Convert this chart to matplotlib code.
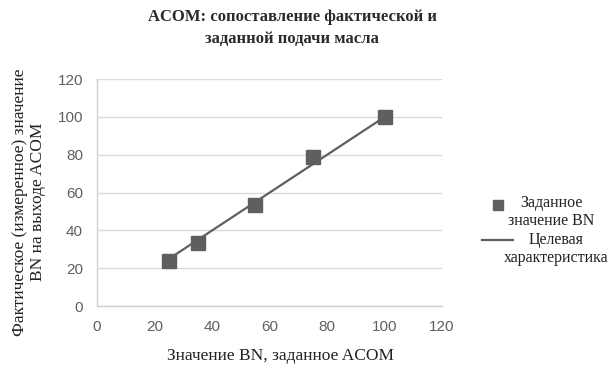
import matplotlib
matplotlib.use("Agg")
import matplotlib.pyplot as plt
from matplotlib.lines import Line2D

# Data
set_bn = [25, 35, 55, 75, 100]
measured_bn = [24, 33.3, 53.5, 78.6, 100]
target_x = [25, 100]
target_y = [25, 100]
xticks = [0, 20, 40, 60, 80, 100, 120]
yticks = [0, 20, 40, 60, 80, 100, 120]

title = "ACOM: сопоставление фактической и\nзаданной подачи масла"
xlabel = "Значение BN, заданное ACOM"
ylabel = "Фактическое (измеренное) значение\nBN на выходе ACOM"
label_pts = "Заданное\nзначение BN"
label_line = "Целевая\nхарактеристика"

serif = ["Liberation Serif", "DejaVu Serif"]
sans = ["Liberation Sans", "DejaVu Sans"]

W, H = 614, 368
fig = plt.figure(figsize=(W / 100, H / 100), dpi=100)
ax = fig.add_axes([0.158, 0.168, 0.562, 0.617])

gray = "#5f5f5f"
ax.plot(target_x, target_y, color=gray, lw=1.6, label=label_line, zorder=3)
ax.plot(set_bn, measured_bn, ls="none", marker="s", ms=9.5, color=gray,
        label=label_pts, zorder=4)

ax.set_xlim(0, 120)
ax.set_ylim(0, 120)
ax.set_xticks(xticks)
ax.set_yticks(yticks)
ax.grid(axis="y", color="#d9d9d9", lw=1.0)
ax.set_axisbelow(True)
for s in ["top", "right"]:
    ax.spines[s].set_visible(False)
for s in ["left", "bottom"]:
    ax.spines[s].set_color("#d0d0d0")
    ax.spines[s].set_linewidth(1.0)
ax.tick_params(axis="both", length=0, pad=10, labelsize=11, labelcolor="#606060")
for lab in ax.get_xticklabels() + ax.get_yticklabels():
    lab.set_family(sans)

ax.set_xlabel(xlabel, family=serif, fontsize=12.5, color="#222222")
ax.xaxis.set_label_coords(0.533, -0.185)
ax.set_ylabel(ylabel, family=serif, fontsize=12.5, color="#222222",
              multialignment="center", linespacing=1.15)
ax.yaxis.set_label_coords(-0.148, 0.458)

fig.text(0.476, 0.975, title, family=serif, fontsize=12, fontweight="bold",
         color="#2a2a2a", ha="center", va="top", multialignment="center",
         linespacing=1.45)

# Legend (Excel-style: handle beside the first line, wrapped text centred)
def fx(px):
    return px / W

def fy(py):
    return 1 - py / H

fig.add_artist(Line2D([fx(498)], [fy(205)], marker="s", ms=7.5, color=gray,
                      ls="none", transform=fig.transFigure))
fig.add_artist(Line2D([fx(482), fx(513)], [fy(240), fy(240)], color=gray,
                      lw=1.6, transform=fig.transFigure))
fig.text(fx(551), fy(212), label_pts, family=serif, fontsize=11.5,
         color="#222222", ha="center", va="center", multialignment="center",
         linespacing=1.1)
fig.text(fx(556), fy(249), label_line, family=serif, fontsize=11.5,
         color="#222222", ha="center", va="center", multialignment="center",
         linespacing=1.1)

fig.savefig("out.png", dpi=100)
